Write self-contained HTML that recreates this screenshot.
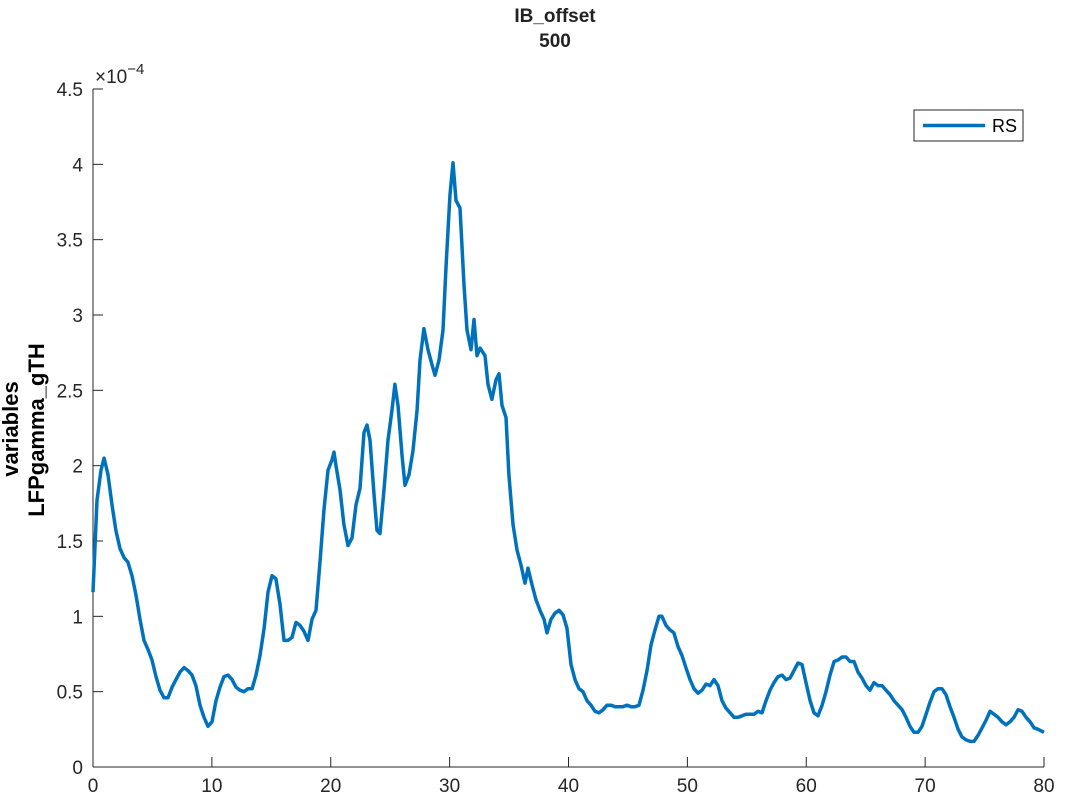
<!DOCTYPE html>
<html><head><meta charset="utf-8"><style>
html,body{margin:0;padding:0;background:#fff;}
svg text{font-family:"Liberation Sans","DejaVu Sans",sans-serif;}
</style></head><body>
<svg id="chart" width="1067" height="800" viewBox="0 0 1067 800" xmlns="http://www.w3.org/2000/svg">
<rect width="1067" height="800" fill="#fff"/>
<g id="axes"></g>
<path id="series" fill="none" stroke="#0072BD" stroke-width="3.5" stroke-linejoin="round"/>
<text x="555" y="22" font-size="19" font-weight="bold" text-anchor="middle" fill="#222">IB_offset</text>
<text x="555" y="47" font-size="19" font-weight="bold" text-anchor="middle" fill="#222">500</text>
<text transform="translate(18,429) rotate(-90)" font-size="22" font-weight="bold" text-anchor="middle" fill="#000">variables</text>
<text transform="translate(44,430) rotate(-90)" font-size="22" font-weight="bold" text-anchor="middle" fill="#000">LFPgamma_gTH</text>
<text x="95" y="83" font-size="19" fill="#262626">×10<tspan dy="-9" font-size="15">−4</tspan></text>
<g>
<rect x="914" y="110" width="109" height="31" fill="#fff" stroke="#262626" stroke-width="1"/>
<line x1="923" y1="125.5" x2="985" y2="125.5" stroke="#0072BD" stroke-width="3.5"/>
<text x="992" y="132" font-size="18" fill="#000">RS</text>
</g>
</svg>
<script>
const xs=[0,0.34,0.67,0.93,1.26,1.60,1.93,2.27,2.61,2.94,3.28,3.62,3.95,4.29,4.63,4.96,5.30,5.64,5.97,6.31,6.65,6.98,7.32,7.66,7.99,8.33,8.66,9.00,9.34,9.67,10.01,10.35,10.68,11.02,11.36,11.69,12.03,12.37,12.70,13.04,13.38,13.71,14.05,14.39,14.72,15.06,15.39,15.73,16.07,16.40,16.74,17.08,17.41,17.75,18.09,18.42,18.76,19.10,19.43,19.77,20.11,20.27,20.44,20.78,21.11,21.45,21.79,22.12,22.46,22.80,23.05,23.30,23.64,23.89,24.14,24.48,24.82,25.15,25.40,25.66,25.99,26.25,26.58,26.92,27.26,27.51,27.84,28.18,28.52,28.77,29.11,29.44,29.70,30.03,30.28,30.54,30.87,31.21,31.46,31.80,32.05,32.30,32.56,32.98,33.23,33.56,33.90,34.15,34.41,34.74,34.99,35.33,35.67,36.00,36.34,36.59,36.93,37.27,37.60,37.94,38.19,38.53,38.86,39.20,39.54,39.87,40.21,40.55,40.88,41.22,41.56,41.89,42.23,42.57,42.90,43.24,43.57,43.91,44.25,44.58,44.92,45.26,45.59,45.93,46.27,46.60,46.94,47.28,47.61,47.86,48.20,48.54,48.87,49.21,49.55,49.88,50.22,50.56,50.89,51.23,51.57,51.90,52.24,52.58,52.91,53.25,53.59,53.92,54.26,54.60,54.93,55.27,55.61,55.94,56.28,56.61,56.95,57.29,57.62,57.96,58.30,58.63,58.97,59.31,59.64,59.98,60.32,60.65,60.99,61.33,61.66,62.00,62.34,62.67,63.01,63.34,63.68,64.02,64.35,64.69,65.03,65.36,65.70,66.04,66.37,66.71,67.05,67.38,67.72,68.06,68.39,68.73,69.06,69.40,69.74,70.07,70.41,70.75,71.08,71.42,71.76,72.09,72.43,72.77,73.10,73.44,73.78,74.11,74.45,74.79,75.12,75.46,75.80,76.13,76.47,76.81,77.14,77.48,77.82,78.15,78.49,78.83,79.16,79.50,80];
const ys=[1.16,1.77,1.97,2.05,1.94,1.74,1.57,1.45,1.39,1.36,1.27,1.14,0.98,0.84,0.78,0.71,0.60,0.51,0.46,0.46,0.53,0.58,0.63,0.66,0.64,0.61,0.54,0.41,0.33,0.27,0.30,0.44,0.53,0.60,0.61,0.58,0.53,0.51,0.50,0.52,0.52,0.61,0.74,0.92,1.16,1.27,1.25,1.08,0.84,0.84,0.86,0.96,0.94,0.90,0.84,0.98,1.04,1.37,1.71,1.97,2.04,2.09,2.00,1.84,1.61,1.47,1.52,1.74,1.85,2.22,2.27,2.17,1.81,1.57,1.55,1.84,2.17,2.37,2.54,2.40,2.07,1.87,1.94,2.10,2.37,2.70,2.91,2.77,2.67,2.60,2.70,2.90,3.33,3.80,4.01,3.76,3.71,3.20,2.90,2.77,2.97,2.73,2.78,2.73,2.54,2.44,2.57,2.61,2.40,2.32,1.94,1.61,1.44,1.34,1.22,1.32,1.21,1.11,1.04,0.98,0.89,0.98,1.02,1.04,1.01,0.92,0.68,0.58,0.52,0.50,0.44,0.41,0.37,0.36,0.38,0.41,0.41,0.40,0.40,0.40,0.41,0.40,0.40,0.41,0.51,0.64,0.81,0.91,1.00,1.00,0.94,0.91,0.89,0.80,0.74,0.66,0.58,0.52,0.49,0.51,0.55,0.54,0.58,0.54,0.44,0.39,0.36,0.33,0.33,0.34,0.35,0.35,0.35,0.37,0.36,0.44,0.51,0.56,0.60,0.61,0.58,0.59,0.64,0.69,0.68,0.56,0.44,0.36,0.34,0.41,0.50,0.61,0.70,0.71,0.73,0.73,0.70,0.70,0.63,0.59,0.54,0.51,0.56,0.54,0.54,0.51,0.48,0.44,0.41,0.38,0.33,0.27,0.23,0.23,0.27,0.35,0.43,0.50,0.52,0.52,0.48,0.40,0.33,0.25,0.20,0.18,0.17,0.17,0.21,0.26,0.31,0.37,0.35,0.33,0.30,0.28,0.30,0.33,0.38,0.37,0.33,0.30,0.26,0.25,0.23];
const xTicks=[0,10,20,30,40,50,60,70,80];
const yTicks=[0,0.5,1,1.5,2,2.5,3,3.5,4,4.5];
const yTickLabels=["0","0.5","1","1.5","2","2.5","3","3.5","4","4.5"];
const L=93,R=1044,T=89,B=767,XMAX=80,YMAX=4.5;
const sx=v=>L+(v/XMAX)*(R-L);
const sy=v=>B-(v/YMAX)*(B-T);
const NS="http://www.w3.org/2000/svg";
const axes=document.getElementById('axes');
function mk(tag,attrs){const e=document.createElementNS(NS,tag);for(const k in attrs)e.setAttribute(k,attrs[k]);axes.appendChild(e);return e;}
let a=mk('line',{x1:L,y1:B,x2:R,y2:B,stroke:'#262626','stroke-width':1});


a=mk('line',{x1:L,y1:T,x2:L,y2:B,stroke:'#262626','stroke-width':1});


xTicks.forEach(v=>{
  const x=sx(v);
  const t=mk('line',{x1:x,y1:B,x2:x,y2:B-10,stroke:'#262626','stroke-width':1});
  
  
  const l=mk('text',{x:x,y:B+25,'font-size':19,'text-anchor':'middle',fill:'#262626'});
  l.textContent=String(v);
  
  
});
yTicks.forEach((v,i)=>{
  const y=sy(v);
  const t=mk('line',{x1:L,y1:y,x2:L+10,y2:y,stroke:'#262626','stroke-width':1});
  
  
  const l=mk('text',{x:L-10,y:y+7,'font-size':19,'text-anchor':'end',fill:'#262626'});
  l.textContent=yTickLabels[i];
  
  
});
let d='';
xs.forEach((x,i)=>{d+=(i?'L':'M')+sx(x).toFixed(1)+' '+sy(ys[i]).toFixed(1);});
document.getElementById('series').setAttribute('d',d);
</script>
</body></html>
